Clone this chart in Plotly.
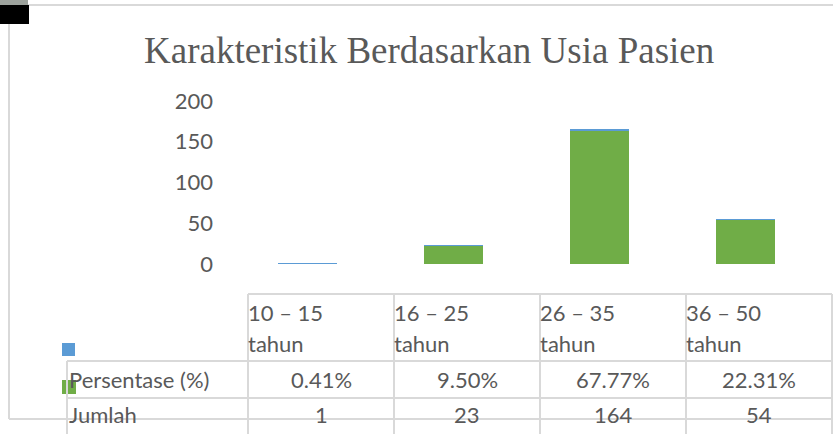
import plotly.graph_objects as go

categories_top = ["10 – 15", "16 – 25", "26 – 35", "36 – 50"]
categories_bottom = ["tahun", "tahun", "tahun", "tahun"]
categories = [a + " " + b for a, b in zip(categories_top, categories_bottom)]
persentase = [0.41, 9.50, 67.77, 22.31]
jumlah = [1, 23, 164, 54]
y_ticks = [0, 50, 100, 150, 200]
title_text = "Karakteristik Berdasarkan Usia Pasien"
row_labels = ["Persentase (%)", "Jumlah"]

W, H = 833, 434
GREEN = "#70AD47"
BLUE = "#5B9BD5"
TXT = "#595959"
LINE = "#D9D9D9"
FONT = "Lato, Carlito, Calibri, sans-serif"
FS = 22

PL, PR = 248, 832
PT, PB = 101, 264
BW = 0.404
BOFF = -0.2945

fig = go.Figure()
fig.add_trace(go.Bar(x=categories, y=jumlah, name="Jumlah", marker_color=GREEN,
                     marker_line_width=0, width=BW, offset=BOFF, hoverinfo="skip"))
fig.add_trace(go.Bar(x=categories, y=[p / 100 for p in persentase], name="Persentase (%)",
                     marker_color=BLUE, marker_line_width=0, width=BW, offset=BOFF,
                     hoverinfo="skip"))


def px(x):
    return (x - PL) / (PR - PL)


def py(y):
    return (PB - y) / (PB - PT)


shapes = []


def hline(x0, x1, y):
    shapes.append(dict(type="line", xref="paper", yref="paper", x0=px(x0), x1=px(x1),
                       y0=py(y), y1=py(y), line=dict(color=LINE, width=2)))


def vline(x, y0, y1):
    shapes.append(dict(type="line", xref="paper", yref="paper", x0=px(x), x1=px(x),
                       y0=py(y0), y1=py(y1), line=dict(color=LINE, width=2)))


# chart border
hline(9, 833, 5)
vline(9, 5, 419)
hline(9, 833, 419)

# table grid
col_w = (PR - PL) / len(categories)
col_edges = [PL + i * col_w for i in range(len(categories) + 1)]
hline(PL, PR, 294)
hline(67, PR, 361)
hline(67, PR, 398)
vline(67, 361, 434)
for xe in col_edges:
    vline(xe, 294, 434)

# legend keys
shapes.append(dict(type="rect", xref="paper", yref="paper", x0=px(62), x1=px(75),
                   y0=py(356), y1=py(343), fillcolor=BLUE, line_width=0))
shapes.append(dict(type="rect", xref="paper", yref="paper", x0=px(62), x1=px(76),
                   y0=py(394), y1=py(380), fillcolor=GREEN, line_width=0, layer="below"))

# selection handle artifact
shapes.append(dict(type="rect", xref="paper", yref="paper", x0=px(0), x1=px(28),
                   y0=py(5), y1=py(0), fillcolor="#9DA39D", line_width=0))
shapes.append(dict(type="rect", xref="paper", yref="paper", x0=px(0), x1=px(29),
                   y0=py(24), y1=py(5), fillcolor="#000000", line_width=0))

annotations = []


def text(x, y, s, xanchor="left", size=FS, color=TXT, family=FONT):
    annotations.append(dict(xref="paper", yref="paper", x=px(x), y=py(y), text=s,
                            showarrow=False, xanchor=xanchor, yanchor="middle",
                            font=dict(family=family, size=size, color=color)))


# title
text(429, 50, title_text, xanchor="center", size=37, family="Liberation Serif, Times New Roman, serif")

for i in range(len(categories)):
    x0 = col_edges[i]
    xc = x0 + col_w / 2
    text(x0 - 2, 312, categories_top[i])
    text(x0 - 2, 343, categories_bottom[i])
    text(xc, 379, f"{persentase[i]:.2f}%", xanchor="center")
    text(xc, 414, f"{jumlah[i]}", xanchor="center")

text(67, 379, row_labels[0])
text(67, 414, row_labels[1])

fig.update_layout(
    width=W, height=H,
    margin=dict(l=PL, r=W - PR, t=PT, b=H - PB, pad=0),
    paper_bgcolor="white", plot_bgcolor="white",
    barmode="stack",
    showlegend=False,
    shapes=shapes, annotations=annotations,
    font=dict(family=FONT, color=TXT, size=FS),
    xaxis=dict(showticklabels=False, showgrid=False, zeroline=False, showline=False,
               ticks="", range=[-0.5, 3.5]),
    yaxis=dict(range=[0, 200], tickvals=y_ticks, showgrid=False, zeroline=False,
               showline=False, ticks="", ticklabelstandoff=34,
               tickfont=dict(family=FONT, size=FS, color=TXT)),
)

fig.write_html("out.html", config={"displayModeBar": False},
               post_script="document.body.style.margin='0';document.body.style.overflow='hidden';")
